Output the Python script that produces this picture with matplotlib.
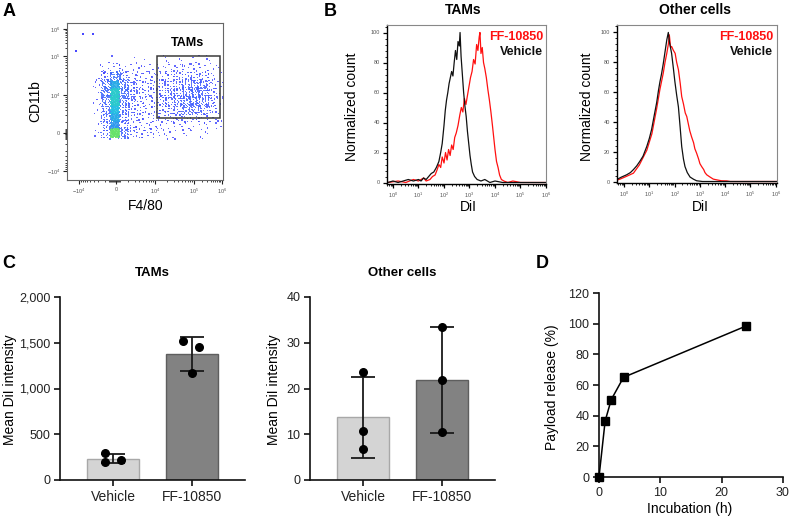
import numpy as np
import matplotlib
matplotlib.use("Agg")
import matplotlib.pyplot as plt
from matplotlib.colors import LinearSegmentedColormap
from matplotlib.patches import Rectangle
from matplotlib.ticker import FixedLocator, MultipleLocator, NullFormatter, LogLocator

plt.rcParams['font.family'] = ['Liberation Sans', 'DejaVu Sans']
plt.rcParams['mathtext.fontset'] = 'custom'
plt.rcParams['mathtext.rm'] = 'Liberation Sans'
plt.rcParams['mathtext.it'] = 'Liberation Sans'

W, H = 791, 522

# ---------------- data ----------------
# Panel A: event counts on a coarse grid (FlowJo channel units 0-1024), top row first
a_x_range = (184, 1024)
a_y_range = (280, 802)
a_counts = [
    [0, 0, 1, 0, 1, 0, 1, 0, 1, 1, 1, 1, 2, 1, 1, 0],
    [1, 2, 4, 3, 2, 2, 2, 2, 2, 3, 3, 3, 3, 3, 2, 1],
    [2, 8, 18, 8, 4, 3, 3, 3, 4, 4, 5, 6, 6, 5, 3, 1],
    [2, 14, 40, 14, 7, 4, 4, 4, 5, 6, 7, 9, 10, 9, 5, 2],
    [2, 16, 48, 16, 8, 5, 4, 4, 6, 7, 9, 11, 12, 11, 6, 2],
    [2, 14, 48, 14, 7, 4, 4, 4, 5, 7, 9, 11, 12, 10, 6, 2],
    [2, 12, 45, 12, 6, 4, 3, 3, 5, 6, 7, 9, 9, 8, 5, 1],
    [1, 10, 40, 9, 4, 3, 3, 3, 3, 4, 5, 5, 5, 4, 3, 1],
    [1, 8, 35, 7, 3, 2, 2, 2, 2, 2, 2, 2, 2, 2, 1, 1],
    [2, 10, 55, 14, 6, 4, 4, 3, 2, 2, 1, 1, 1, 1, 1, 0],
]
a_out_x = [105, 171, 59, 240]
a_out_y = [952, 952, 841, 700]
a_gate = (590, 1003, 404, 808)  # x0, x1, y0, y1
a_xticks = [79, 321, 577, 833, 1015]
a_xticklabels = [r'$-10^4$', '0', r'$10^4$', r'$10^5$', r'$10^6$']
a_yticks = [59, 306, 554, 808, 985]
a_yticklabels = [r'$-10^4$', '0', r'$10^4$', r'$10^5$', r'$10^6$']

# Panel B: histograms, x = log10(DiI), y = normalized count
tam_veh_log = [-0.2, 0.0, 0.2, 0.4, 0.6, 0.8, 1.0, 1.1, 1.2, 1.3, 1.4, 1.5, 1.6, 1.7, 1.8, 1.87, 1.93,
               2.0, 2.05, 2.1, 2.15, 2.2, 2.25, 2.3, 2.35, 2.4, 2.45, 2.5, 2.55, 2.6, 2.63, 2.67, 2.72,
               2.77, 2.82, 2.87, 2.92, 2.97, 3.02, 3.07, 3.12, 3.2, 3.3, 3.45, 3.6, 3.8, 4.0, 4.3, 6.0]
tam_veh_val = [0, 1, 0, 1, 2, 1, 2, 1, 3, 2, 4, 6, 7, 10, 14, 20, 26,
               38, 48, 55, 60, 66, 70, 74, 71, 80, 88, 82, 94, 91, 100, 84, 72,
               60, 51, 44, 34, 26, 18, 12, 7, 4, 2, 1, 2, 0, 1, 0, 0]
tam_ff_log = [-0.2, 0.2, 0.5, 0.8, 1.0, 1.2, 1.3, 1.45, 1.55, 1.65, 1.72, 1.8, 1.87, 1.93, 2.0, 2.06,
              2.12, 2.18, 2.24, 2.3, 2.36, 2.42, 2.48, 2.55, 2.62, 2.68, 2.74, 2.8, 2.86, 2.92, 2.98,
              3.04, 3.1, 3.16, 3.22, 3.28, 3.33, 3.38, 3.41, 3.45, 3.5, 3.55, 3.6, 3.66, 3.72, 3.78,
              3.84, 3.9, 3.95, 4.0, 4.06, 4.12, 4.18, 4.25, 4.35, 4.5, 4.7, 5.0, 6.0]
tam_ff_val = [0, 1, 0, 2, 1, 3, 1, 2, 4, 5, 8, 12, 10, 17, 13, 20,
              15, 22, 18, 25, 22, 30, 33, 38, 45, 50, 47, 56, 52, 58, 64,
              70, 74, 82, 79, 92, 88, 97, 100, 86, 90, 80, 76, 70, 62, 55,
              47, 38, 30, 22, 14, 10, 5, 2, 1, 0, 1, 0, 0]
oth_veh_log = [-0.27, -0.1, 0.1, 0.25, 0.37, 0.5, 0.63, 0.75, 0.9, 1.0, 1.09, 1.2, 1.29, 1.36, 1.42,
               1.48, 1.55, 1.62, 1.69, 1.75, 1.8, 1.88, 1.95, 2.01, 2.08, 2.15, 2.22, 2.28, 2.35,
               2.41, 2.5, 2.61, 2.75, 2.87, 3.1, 6.05]
oth_veh_val = [1.5, 3, 4.5, 6, 8, 10.5, 13.7, 17, 23.6, 29, 35, 45, 53, 61, 67,
               72, 79, 87, 95, 100, 93, 86, 76, 67, 58, 50, 36, 23.5, 15,
               10, 6, 3, 1.5, 0.5, 0, 0]
oth_ff_log = [-0.27, -0.16, 0.1, 0.37, 0.6, 0.9, 1.1, 1.29, 1.42, 1.55, 1.62, 1.69, 1.75, 1.79, 1.84,
              1.88, 1.95, 2.02, 2.08, 2.15, 2.22, 2.28, 2.35, 2.42, 2.48, 2.55, 2.6, 2.67, 2.75, 2.8,
              2.87, 2.95, 3.0, 3.07, 3.15, 3.2, 3.27, 3.4, 3.53, 3.7, 3.85, 4.06, 4.2, 6.05]
oth_ff_val = [1, 1.6, 3.5, 5.6, 11, 21, 32, 49, 62, 72.7, 80, 86, 92, 98.4, 90,
              90.6, 88, 86, 80, 75, 66, 57, 52, 46, 43.6, 38, 34, 30, 26, 22,
              19, 15, 12, 10, 8, 6, 4.5, 3, 1.6, 1, 0.5, 0.4, 0, 0]
b_xticklabels = [r'$10^{%d}$' % k for k in range(7)]

# Panel C: mean DiI intensity, individual replicates
groups = ['Vehicle', 'FF-10850']
tam_vehicle = [290, 195, 215]
tam_ff = [1520, 1450, 1170]
other_vehicle = [23.5, 10.8, 6.7]
other_ff = [33.5, 21.8, 10.4]
tam_yticks = [0, 500, 1000, 1500, 2000]
other_yticks = [0, 10, 20, 30, 40]

# Panel D: payload release
d_hours = [0, 1, 2, 4, 24]
d_release = [0, 36.5, 50.5, 65, 98.5]


def box(l, t, r, b):
    return [l / W, 1 - b / H, (r - l) / W, (b - t) / H]


def ftext(x, y, s, **kw):
    fig.text(x / W, 1 - y / H, s, ha=kw.pop('ha', 'center'), va=kw.pop('va', 'center'), **kw)


fig = plt.figure(figsize=(7.91, 5.22), dpi=100)

# ---------------- Panel A ----------------
axA = fig.add_axes(box(67, 23, 223, 180))
dens_cmap = LinearSegmentedColormap.from_list(
    'dens', [(0, '#4848ff'), (0.2, '#4060ff'), (0.55, '#2f8cf0'), (0.8, '#25c4e0'), (0.93, '#40e080'),
             (1, '#d0e830')])
nrow, ncol = len(a_counts), len(a_counts[0])
cw = (a_x_range[1] - a_x_range[0]) / ncol
rh = (a_y_range[1] - a_y_range[0]) / nrow
g2 = 1.32471795724474602596
xs, ys, cs = [], [], []
k = 0
for r, row in enumerate(a_counts):
    for c, n in enumerate(row):
        # spread each cell's events a bit over its neighbours so the grid edges blur
        spread = 1.5 if n < 20 else 1.1
        for i in range(n * 2):
            k += 1
            u = (0.5 + k / g2) % 1
            v = (0.5 + k / g2 ** 2) % 1
            xs.append(a_x_range[0] + (c + 0.5 + (u - 0.5) * spread) * cw)
            ys.append(a_y_range[1] - (r + 0.5 + (v - 0.5) * spread) * rh)
            cs.append(n)
order = np.argsort(cs)
axA.scatter(np.array(xs)[order], np.array(ys)[order], c=np.array(cs)[order], cmap=dens_cmap,
            vmin=0, vmax=58, s=0.9, marker='s', linewidths=0, alpha=0.85)
axA.scatter(a_out_x, a_out_y, color='#4848ff', s=0.9, marker='s', linewidths=0)
axA.add_patch(Rectangle((a_gate[0], a_gate[2]), a_gate[1] - a_gate[0], a_gate[3] - a_gate[2],
                        fill=False, ec='#3a3a3a', lw=1.1))
axA.text(794, 893, 'TAMs', ha='center', va='center', fontsize=9, fontweight='bold')
axA.set_xlim(0, 1024)
axA.set_ylim(0, 1024)


def flow_minor(majors, dense_zero):
    out = []
    for p0, p1 in zip(majors[1:-1], majors[2:]):
        out += [p0 + (p1 - p0) * np.log10(m) for m in range(2, 10)]
    p0, p1 = majors[0], majors[1]
    out += [p1 - (p1 - p0) * np.log10(m) for m in range(2, 10)]
    out += list(np.linspace(dense_zero[0], dense_zero[1], 12))
    return out


axA.set_xticks(a_xticks)
axA.set_xticklabels(a_xticklabels)
axA.set_yticks(a_yticks)
axA.set_yticklabels(a_yticklabels)
axA.xaxis.set_minor_locator(FixedLocator(flow_minor(a_xticks, (275, 345))))
axA.yaxis.set_minor_locator(FixedLocator(flow_minor(a_yticks, (270, 330))))
axA.tick_params(which='major', length=3, width=0.8, labelsize=4, pad=2, colors='#222', labelcolor='#555')
axA.tick_params(which='minor', length=1.6, width=0.6, colors='#222')
for s in axA.spines.values():
    s.set_color('#666')
    s.set_linewidth(0.8)
ftext(35, 101, 'CD11b', rotation=90, fontsize=10)
ftext(146, 206, 'F4/80', fontsize=10)


# ---------------- Panel B ----------------
def hist_panel(rect, xl, veh_log, veh_val, ff_log, ff_val):
    ax = fig.add_axes(rect)
    ax.plot(10 ** np.array(ff_log), ff_val, color='#ff1010', lw=0.9)
    ax.plot(10 ** np.array(veh_log), veh_val, color='#111', lw=0.9)
    ax.set_xscale('log')
    ax.set_xlim(10 ** xl[0], 10 ** xl[1])
    ax.set_ylim(-1, 105)
    ax.set_xticks([10 ** k for k in range(7)])
    ax.set_xticklabels(b_xticklabels)
    ax.xaxis.set_minor_locator(LogLocator(base=10, subs=np.arange(2, 10), numticks=20))
    ax.xaxis.set_minor_formatter(NullFormatter())
    ax.set_yticks([0, 20, 40, 60, 80, 100])
    ax.yaxis.set_minor_locator(MultipleLocator(4))
    ax.tick_params(which='major', length=3, width=0.9, labelsize=4, pad=2, labelcolor='#555')
    ax.tick_params(which='minor', length=1.5, width=0.6)
    for s in ['top', 'right']:
        ax.spines[s].set_color('#888')
        ax.spines[s].set_linewidth(0.8)
    for s in ['left', 'bottom']:
        ax.spines[s].set_linewidth(1.0)
    return ax


hist_panel(box(387, 25, 546, 184), (-0.235, 6.0), tam_veh_log, tam_veh_val, tam_ff_log, tam_ff_val)
hist_panel(box(617, 25, 777, 183), (-0.28, 6.05), oth_veh_log, oth_veh_val, oth_ff_log, oth_ff_val)
for xc, xr, xd, ttl in [(352, 543, 468, 'TAMs'), (587, 773, 700, 'Other cells')]:
    ftext(xc, 107, 'Normalized count', rotation=90, fontsize=10)
    ftext(xr, 37, 'FF-10850', ha='right', fontsize=9, fontweight='bold', color='#ff1010')
    ftext(xr, 52, 'Vehicle', ha='right', fontsize=9, fontweight='bold', color='#111')
    ftext(xd, 207, 'DiI', fontsize=10)
ftext(463, 10, 'TAMs', fontsize=10, fontweight='bold')
ftext(695, 10, 'Other cells', fontsize=10, fontweight='bold')


# ---------------- Panel C ----------------
def prism_axes(ax):
    for s in ['top', 'right']:
        ax.spines[s].set_visible(False)
    for s in ['left', 'bottom']:
        ax.spines[s].set_linewidth(1.2)
        ax.spines[s].set_color('#111')
    ax.tick_params(length=4, width=1.2, labelsize=9, colors='#111', labelcolor='#222', pad=3)


def bar_panel(rect, data, jitter, ylim, yticks, ylabels):
    ax = fig.add_axes(rect)
    xpos = np.arange(len(groups))
    means = [np.mean(d) for d in data]
    sds = [np.std(d, ddof=1) for d in data]
    ax.bar(xpos, means, width=0.66, color=['#d4d4d4', '#828282'], edgecolor=['#a8a8a8', '#5e5e5e'],
           linewidth=1.0, zorder=1)
    ax.errorbar(xpos, means, yerr=sds, fmt='none', ecolor='#1a1a1a', elinewidth=1.3, capsize=8.5,
                capthick=1.3, zorder=2)
    for i, d in enumerate(data):
        ax.scatter(xpos[i] + np.array(jitter[i]), d, s=30, color='black', zorder=3, clip_on=False)
    ax.set_xlim(-0.67, 1.67)
    ax.set_ylim(*ylim)
    ax.set_xticks(xpos)
    ax.set_xticklabels(groups, fontsize=10)
    ax.set_yticks(yticks)
    ax.set_yticklabels(ylabels)
    prism_axes(ax)
    ax.tick_params(axis='x', labelsize=10)
    return ax


bar_panel(box(60, 297, 245, 480), [tam_vehicle, tam_ff], [[-0.1, -0.1, 0.1], [-0.11, 0.09, 0.0]],
          (0, 2000), tam_yticks, [f'{v:,}' for v in tam_yticks])
bar_panel(box(310, 297, 495, 480), [other_vehicle, other_ff], [[0, 0, 0], [0, 0, 0]],
          (0, 40), other_yticks, [str(v) for v in other_yticks])
ftext(152, 273, 'TAMs', fontsize=9.5, fontweight='bold')
ftext(402, 273, 'Other cells', fontsize=9.5, fontweight='bold')
ftext(10, 390, 'Mean DiI intensity', rotation=90, fontsize=10)
ftext(274, 390, 'Mean DiI intensity', rotation=90, fontsize=10)

# ---------------- Panel D ----------------
axD = fig.add_axes(box(599, 293, 783, 477))
axD.plot(d_hours, d_release, color='black', lw=1.1, marker='s', markersize=5.5, clip_on=False, zorder=3)
axD.set_xlim(0, 30)
axD.set_ylim(0, 120)
axD.set_xticks([0, 10, 20, 30])
axD.set_yticks([0, 20, 40, 60, 80, 100, 120])
prism_axes(axD)
ftext(552, 387, 'Payload release (%)', rotation=90, fontsize=10)
ftext(690, 509, 'Incubation (h)', fontsize=10)

# panel letters
for x, y, s in [(9, 11, 'A'), (330, 11, 'B'), (9, 264, 'C'), (542, 264, 'D')]:
    ftext(x, y, s, fontsize=13, fontweight='bold')

fig.savefig('out.png', dpi=100)
